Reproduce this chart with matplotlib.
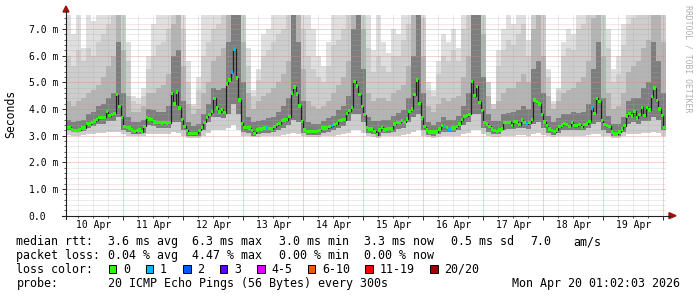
import numpy as np
import matplotlib
matplotlib.use('Agg')
import matplotlib.pyplot as plt
from matplotlib.patches import Polygon, Rectangle
from matplotlib.lines import Line2D
from matplotlib.transforms import blended_transform_factory

# ---------------- data ----------------
# hourly median rtt (ms), hours 1..240 after Apr 10 00:00
median = [
 3.31,3.31,3.22,3.2,3.19,3.22,3.29,3.29,3.46,3.44,3.5,3.55,3.6,3.68,3.69,3.69,3.9,3.75,3.8,3.84,4.54,4.1,3.69,3.35,
 3.3,3.29,3.21,3.15,3.2,3.21,3.13,3.35,3.69,3.62,3.6,3.52,3.5,3.49,3.48,3.49,3.48,3.49,4.59,4.19,4.63,4.03,3.6,3.35,
 3.2,3.09,3.08,3.08,3.09,3.2,3.3,3.5,3.69,3.8,3.9,4.4,4.03,3.88,3.99,3.86,4.93,5.09,5.38,6.25,5.17,4.34,3.46,3.3,
 3.31,3.29,3.19,3.09,3.21,3.25,3.25,3.29,3.29,3.27,3.25,3.34,3.41,3.45,3.56,3.59,3.6,3.71,4.6,4.82,4.57,4.12,3.54,3.21,
 3.16,3.16,3.15,3.16,3.16,3.2,3.29,3.29,3.29,3.34,3.38,3.41,3.45,3.56,3.59,3.6,3.84,3.94,4.06,5.04,4.87,4.54,4.09,3.79,
 3.3,3.25,3.25,3.16,3.04,3.22,3.31,3.22,3.25,3.27,3.25,3.44,3.5,3.5,3.56,3.5,3.62,3.91,4.0,4.54,5.09,4.21,3.66,3.34,
 3.21,3.13,3.13,3.13,3.14,3.25,3.38,3.34,3.3,3.25,3.29,3.29,3.35,3.44,3.6,3.72,3.75,3.8,5.04,4.5,4.85,4.25,3.94,3.5,
 3.44,3.35,3.25,3.19,3.16,3.21,3.25,3.5,3.5,3.5,3.38,3.54,3.52,3.41,3.59,3.5,3.44,3.49,3.6,4.34,4.28,4.19,3.8,3.52,
 3.38,3.25,3.19,3.15,3.21,3.34,3.4,3.46,3.41,3.35,3.5,3.38,3.38,3.41,3.31,3.41,3.44,3.54,4.04,3.84,4.4,4.29,3.56,3.41,
 3.38,3.35,3.13,3.06,3.06,3.13,3.25,3.38,3.73,3.84,3.73,3.91,3.66,3.79,4.06,3.75,4.06,3.96,4.46,4.79,4.31,4.0,3.75,3.31]

# hours with packet loss and the number of lost pings
loss_hours = [67, 68, 81, 107, 152, 154, 185, 211]
loss_counts = [1, 1, 1, 1, 1, 1, 1, 1]

# smoke (2-hour bins): min, lower inner, upper levels, max
smoke_lo = [
 3.02,3.0,3.0,3.02,3.05,3.08,3.1,3.1,3.12,3.12,3.15,3.05,
 3.0,2.98,2.98,3.0,3.08,3.08,3.05,3.05,3.05,3.15,3.1,3.0,
 2.93,2.92,2.93,3.0,3.1,3.2,3.2,3.2,3.3,3.4,3.2,3.0,
 2.98,2.95,2.95,2.97,2.97,2.98,3.0,3.02,3.05,3.1,3.05,2.98,
 2.95,2.95,2.95,2.97,2.98,3.0,3.02,3.05,3.1,3.2,3.2,3.1,
 2.97,2.95,2.93,2.97,2.97,2.98,3.0,3.02,3.08,3.15,3.2,3.0,
 2.95,2.93,2.95,2.98,2.97,2.97,3.0,3.05,3.1,3.2,3.2,3.05,
 2.98,2.95,2.95,3.0,3.0,3.0,3.02,3.02,3.0,3.08,3.1,3.02,
 2.97,2.95,2.97,3.0,3.0,3.0,3.0,3.0,3.02,3.05,3.08,3.0,
 2.97,2.92,2.92,2.97,3.05,3.08,3.05,3.1,3.1,3.15,3.1,3.0]
smoke_l1 = [
 3.2,3.12,3.12,3.18,3.3,3.35,3.45,3.45,3.55,3.55,3.7,3.2,
 3.15,3.08,3.08,3.1,3.4,3.38,3.3,3.3,3.3,3.5,3.5,3.2,
 3.0,2.98,3.0,3.2,3.5,3.7,3.7,3.65,3.8,4.2,3.8,3.15,
 3.1,3.0,3.05,3.1,3.1,3.12,3.2,3.3,3.4,3.6,3.5,3.1,
 3.02,3.02,3.02,3.1,3.15,3.2,3.3,3.35,3.55,3.8,3.8,3.5,
 3.1,3.05,3.0,3.1,3.1,3.15,3.25,3.3,3.5,3.7,3.8,3.2,
 3.03,3.0,3.05,3.15,3.12,3.12,3.2,3.4,3.5,3.8,3.8,3.3,
 3.15,3.05,3.05,3.2,3.25,3.25,3.28,3.3,3.25,3.45,3.5,3.3,
 3.1,3.02,3.1,3.2,3.2,3.22,3.2,3.2,3.3,3.45,3.5,3.2,
 3.1,2.98,2.98,3.15,3.45,3.5,3.45,3.55,3.55,3.7,3.6,3.2]
smoke_u1 = [
 3.6,3.5,3.55,3.6,3.8,3.9,4.1,4.2,4.4,4.6,6.5,4.6,
 3.7,3.5,3.5,3.6,4.0,3.95,3.9,3.9,4.1,6.0,6.2,4.3,
 3.5,3.35,3.45,3.8,4.2,4.8,4.7,4.8,6.5,7.6,7.6,5.0,
 3.7,3.5,3.55,3.6,3.65,3.7,3.9,4.1,4.4,7.6,6.5,4.3,
 3.5,3.45,3.45,3.55,3.65,3.75,3.95,4.1,4.5,7.0,7.6,5.5,
 3.7,3.55,3.55,3.6,3.6,3.75,3.85,3.95,4.4,6.0,7.6,4.6,
 3.5,3.4,3.5,3.7,3.6,3.6,3.75,4.1,4.6,7.6,7.6,5.2,
 3.8,3.55,3.55,3.8,3.85,3.9,3.95,4.1,4.0,5.5,5.8,4.6,
 3.75,3.5,3.65,3.8,3.8,3.9,3.85,3.9,4.2,5.5,6.5,4.4,
 3.75,3.45,3.45,3.7,4.3,4.4,4.4,4.8,5.0,6.5,5.8,4.6]
smoke_u2 = [
 4.3,4.1,4.3,4.4,4.6,4.7,4.9,5.2,5.6,6.0,7.6,6.2,
 4.5,3.9,3.9,4.1,4.6,4.6,4.8,4.9,5.3,7.2,7.6,5.6,
 4.2,3.8,4.0,4.6,5.0,5.8,6.0,6.3,7.6,7.6,7.6,6.5,
 4.6,4.0,4.3,4.5,4.6,4.8,5.0,5.3,5.8,7.6,7.6,5.5,
 4.3,4.1,4.0,4.1,4.3,4.6,4.9,5.2,5.8,7.6,7.6,7.0,
 4.6,4.3,4.4,4.4,4.3,4.6,4.7,4.9,5.6,7.6,7.6,6.0,
 4.1,3.9,4.2,4.4,4.3,4.4,4.5,5.2,6.0,7.6,7.6,6.8,
 4.5,4.0,4.3,4.6,4.8,4.8,5.0,5.3,5.0,7.0,7.6,6.0,
 4.5,4.0,4.3,4.6,4.7,4.8,5.0,5.2,5.8,7.4,7.6,6.0,
 4.6,4.0,4.1,4.6,5.4,5.6,5.8,6.3,6.6,7.6,7.6,6.5]
smoke_u3 = [
 6.0,5.6,6.2,5.8,6.3,6.0,6.5,6.8,7.2,7.6,7.6,7.6,
 5.8,4.3,4.2,4.5,5.5,6.0,6.4,6.5,7.0,7.6,7.6,7.0,
 5.0,4.1,4.7,6.0,6.5,7.0,7.2,7.6,7.6,7.6,7.6,7.6,
 5.6,4.5,5.1,6.0,6.2,6.5,6.8,7.0,7.6,7.6,7.6,7.0,
 6.0,5.5,5.2,5.0,5.6,6.4,6.6,7.0,7.6,7.6,7.6,7.6,
 6.3,5.4,6.0,5.6,5.4,6.0,6.0,6.6,7.2,7.6,7.6,7.4,
 4.7,4.5,5.3,6.0,5.8,6.2,5.8,7.0,7.6,7.6,7.6,7.6,
 5.0,4.2,5.6,6.2,6.6,6.4,6.8,7.2,6.0,7.6,7.6,7.6,
 5.2,4.2,4.7,6.0,6.3,6.2,7.0,7.2,7.6,7.6,7.6,7.6,
 6.3,5.0,5.3,6.4,7.2,7.4,7.6,7.6,7.6,7.6,7.6,7.6]
smoke_max = [
 7.6,6.8,7.6,6.3,7.6,7.3,7.6,7.6,7.6,7.6,7.6,7.6,
 6.5,4.5,4.4,4.8,6.0,7.2,7.6,7.6,7.6,7.6,7.6,7.6,
 5.8,4.2,5.2,7.6,7.6,7.6,7.6,7.6,7.6,7.6,7.6,7.6,
 6.3,4.7,5.5,6.8,7.0,7.6,7.6,7.6,7.6,7.6,7.6,7.6,
 7.6,7.0,6.0,5.6,6.5,7.6,7.6,7.6,7.6,7.6,7.6,7.6,
 7.6,6.2,7.6,6.5,6.1,7.0,6.8,7.6,7.6,7.6,7.6,7.6,
 5.0,4.7,5.8,6.8,6.5,7.0,6.3,7.6,7.6,7.6,7.6,7.6,
 5.0,4.2,6.2,7.0,7.6,7.2,7.6,7.6,6.6,7.6,7.6,7.6,
 5.5,4.3,4.8,6.5,7.0,6.8,7.6,7.6,7.6,7.6,7.6,7.6,
 7.0,5.5,6.0,7.2,7.6,7.6,7.6,7.6,7.6,7.6,7.6,7.6]

day_labels = ['10 Apr', '11 Apr', '12 Apr', '13 Apr', '14 Apr',
              '15 Apr', '16 Apr', '17 Apr', '18 Apr', '19 Apr']
y_ticks = [0, 1, 2, 3, 4, 5, 6, 7]
y_ticklabels = ['0.0', '1.0 m', '2.0 m', '3.0 m', '4.0 m', '5.0 m', '6.0 m', '7.0 m']

loss_labels = ['0', '1', '2', '3', '4-5', '6-10', '11-19', '20/20']
loss_colors = ['#26ff00', '#00b8ff', '#0059ff', '#5e00ff', '#dd00ff', '#ff5500', '#ff0000', '#a10000']

legend_rtt = ['median rtt:', '3.6 ms avg', '6.3 ms max', '3.0 ms min', '3.3 ms now', '0.5 ms sd', '7.0', 'am/s']
legend_loss = ['packet loss:', '0.04 % avg', '4.47 % max', '0.00 % min', '0.00 % now']
probe_text = ['probe:', '20 ICMP Echo Pings (56 Bytes) every 300s', 'Mon Apr 20 01:02:03 2026']

# ---------------- figure ----------------
W, H = 697, 297
MONO = 'DejaVu Sans Mono'
fig = plt.figure(figsize=(W / 100, H / 100), dpi=100)
fig.patch.set_facecolor('white')

def fx(px):
    return px / W

def fy(py):
    return 1 - py / H

AX_L, AX_R, AX_T, AX_B = 66, 666, 14.7, 215.7
ax = fig.add_axes([fx(AX_L), fy(AX_B), (AX_R - AX_L) / W, (AX_B - AX_T) / H])
ax.set_facecolor('white')
ax.set_xlim(1.03, 241.03)
ax.set_ylim(0, 7.537)

# smoke
sedges = np.arange(1, 242, 2)
def ext(a):
    a = np.asarray(a, float)
    return np.append(a, a[-1])

ax.fill_between(sedges, ext(smoke_lo), ext(smoke_max), step='post', color='#dfdfdf', lw=0, zorder=1)
ax.fill_between(sedges, ext(smoke_lo), ext(smoke_u3), step='post', color='#cdcdcd', lw=0, zorder=1.1)
ax.fill_between(sedges, ext(smoke_l1), ext(smoke_u2), step='post', color='#b4b4b4', lw=0, zorder=1.2)
ax.fill_between(sedges, ext(smoke_l1), ext(smoke_u1), step='post', color='#7e7e7e', lw=0, zorder=1.3)

# grid
ax.set_xticks(np.arange(24, 241, 24))
ax.set_xticks(np.arange(6, 241, 6), minor=True)
ax.set_yticks(y_ticks)
ax.set_yticks(np.arange(0, 7.6, 0.2), minor=True)
ax.set_axisbelow(False)
ax.grid(which='major', color='#e88080', alpha=0.75, ls=(0, (1, 1)), lw=0.72)
ax.grid(which='minor', color='#a8a8a8', alpha=0.45, ls=(0, (1, 1)), lw=0.72)
ax.set_xticklabels([])
ax.set_yticklabels(y_ticklabels, fontfamily=MONO, fontsize=7)
ax.tick_params(axis='both', which='major', direction='out', length=3, width=0.72, color='#303030')
ax.tick_params(axis='both', which='minor', direction='out', length=1.5, width=0.72, color='#606060')
ax.tick_params(axis='y', which='major', pad=23.8)
for lab in ax.get_yticklabels():
    lab.set_ha('left')
for s in ax.spines.values():
    s.set_visible(False)

# median line and loss-coloured markers
hedges = np.arange(1, 242)
med = np.asarray(median, float)
ax.step(hedges, ext(med), where='post', color='#202020', lw=0.9, zorder=3)
loss = np.zeros(len(med), int)
for h, c in zip(loss_hours, loss_counts):
    loss[h - 1] = c
def loss_idx(c):
    if c <= 3:
        return c
    if c <= 5:
        return 4
    if c <= 10:
        return 5
    if c <= 19:
        return 6
    return 7
bar_colors = [loss_colors[loss_idx(c)] for c in loss]
sw = 0.065
ax.bar(hedges[:-1], 2 * sw, bottom=med - sw, width=1, align='edge', color=bar_colors, lw=0, zorder=4)

# day labels
tr = blended_transform_factory(ax.transData, fig.transFigure)
for d, lab in enumerate(day_labels):
    ax.text(12 + 24 * d, fy(224.5), lab, transform=tr, ha='center', va='center',
            fontfamily=MONO, fontsize=7, clip_on=False)

# axes lines and arrows
axis_col = '#202020'
arrow_col = '#a01010'
fig.add_artist(Line2D([fx(AX_L), fx(AX_L)], [fy(219), fy(11)], color=axis_col, lw=0.8, transform=fig.transFigure))
fig.add_artist(Line2D([fx(62), fx(670)], [fy(AX_B), fy(AX_B)], color=axis_col, lw=0.8, transform=fig.transFigure))
fig.add_artist(Polygon([[fx(AX_L), fy(6)], [fx(AX_L - 3), fy(12)], [fx(AX_L + 3), fy(12)]],
                       closed=True, color=arrow_col, transform=fig.transFigure))
fig.add_artist(Polygon([[fx(676), fy(AX_B)], [fx(669), fy(AX_B - 3)], [fx(669), fy(AX_B + 3)]],
                       closed=True, color=arrow_col, transform=fig.transFigure))

# axis title and watermark
fig.text(fx(11), fy(114), 'Seconds', rotation=90, ha='center', va='center', fontfamily=MONO, fontsize=8.3)
fig.text(fx(688), fy(59), 'RRDTOOL / TOBI OETIKER', rotation=270, ha='center', va='center',
         fontfamily=MONO, fontsize=5.9, color='#b0b0b0')

# legend
LFS = 8.4
rtt_x = [16.4, 107.6, 192.4, 278.7, 364.0, 451.0, 530.0, 573.0]
for x, s in zip(rtt_x, legend_rtt):
    fig.text(fx(x), fy(241.7), s, ha='left', va='center', fontfamily=MONO, fontsize=LFS)
loss_x = [16.4, 107.6, 192.4, 278.7, 364.4]
for x, s in zip(loss_x, legend_loss):
    fig.text(fx(x), fy(255.7), s, ha='left', va='center', fontfamily=MONO, fontsize=LFS)
fig.text(fx(16.4), fy(269.3), 'loss color:', ha='left', va='center', fontfamily=MONO, fontsize=LFS)
box_x = [108.9, 145.8, 183.0, 220.0, 257.0, 307.6, 365.0, 430.0]
lab_x = [123.6, 160.0, 197.0, 234.0, 271.0, 322.0, 380.0, 444.4]
for bx, col in zip(box_x, loss_colors):
    fig.add_artist(Rectangle((fx(bx), fy(273.3)), 7.5 / W, 8 / H, facecolor=col, edgecolor='black',
                             lw=0.7, transform=fig.transFigure))
for lx, lab in zip(lab_x, loss_labels):
    fig.text(fx(lx), fy(269.3), lab, ha='left', va='center', fontfamily=MONO, fontsize=LFS)
fig.text(fx(16.4), fy(283.3), probe_text[0], ha='left', va='center', fontfamily=MONO, fontsize=LFS)
fig.text(fx(107.6), fy(283.3), probe_text[1], ha='left', va='center', fontfamily=MONO, fontsize=LFS)
fig.text(fx(680.5), fy(283.3), probe_text[2], ha='right', va='center', fontfamily=MONO, fontsize=LFS)

fig.savefig('out.png', dpi=100, facecolor='white')
